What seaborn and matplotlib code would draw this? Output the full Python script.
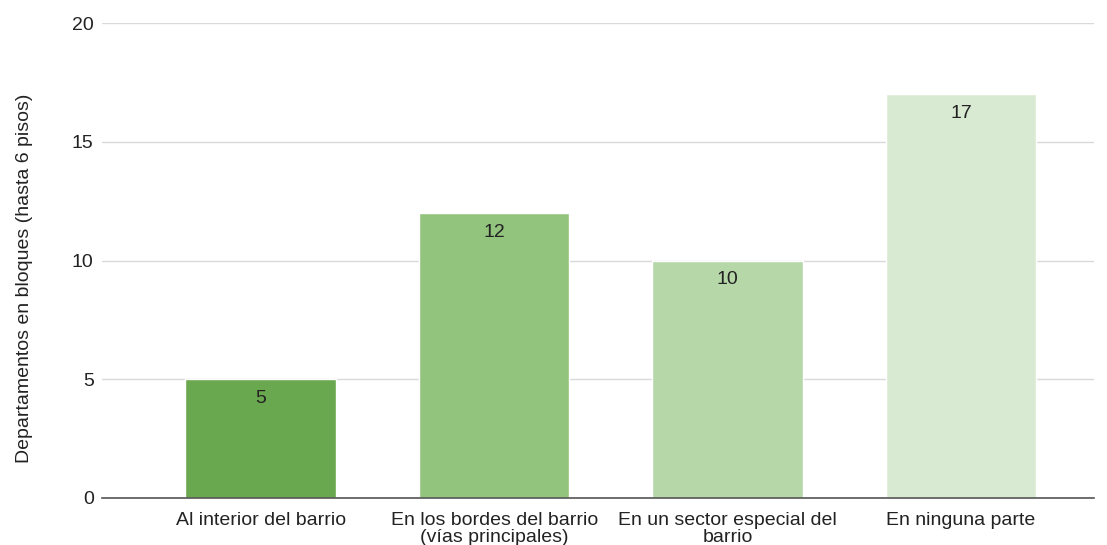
import matplotlib
matplotlib.use("Agg")
import matplotlib.pyplot as plt
import seaborn as sns
import pandas as pd

categories = [
    "Al interior del barrio",
    "En los bordes del barrio\n(vías principales)",
    "En un sector especial del\nbarrio",
    "En ninguna parte",
]
values = [5, 12, 10, 17]
bar_colors = ["#6aa84f", "#93c47d", "#b6d7a8", "#d9ead3"]
y_ticks = [0, 5, 10, 15, 20]
y_label = "Departamentos en bloques (hasta 6 pisos)"

sns.set_style("white")
plt.rcParams["font.family"] = ["Liberation Sans", "DejaVu Sans"]

df = pd.DataFrame({"cat": categories, "val": values})

fig = plt.figure(figsize=(11.07, 5.45), dpi=100)
ax = fig.add_axes([102 / 1107, 1 - 498 / 545, (1094 - 102) / 1107, (498 - 23) / 545])

sns.barplot(data=df, x="cat", y="val", hue="cat", palette=bar_colors,
            legend=False, width=0.645, ax=ax, saturation=1, zorder=3)

ax.set_ylim(0, 20)
ax.set_xlim(-0.68, 3.57)
ax.set_yticks(y_ticks)
ax.set_yticklabels([str(t) for t in y_ticks], fontsize=14, color="#222222")
ax.yaxis.grid(True, color="#d9d9d9", linewidth=1, zorder=0)
ax.set_axisbelow(True)
for s in ["top", "right", "left"]:
    ax.spines[s].set_visible(False)
ax.spines["bottom"].set_color("#555555")
ax.spines["bottom"].set_linewidth(1.2)
ax.spines["bottom"].set_zorder(4)
ax.tick_params(axis="y", length=0, pad=6)
ax.tick_params(axis="x", length=0, pad=10)
ax.set_xlabel("")
ax.set_ylabel(y_label, fontsize=14, color="#222222")
ax.yaxis.set_label_coords(-0.0696, 0.463)

for lbl in ax.get_xticklabels():
    lbl.set_fontsize(14)
    lbl.set_color("#222222")
    lbl.set_linespacing(1.0)

for container in ax.containers:
    ax.bar_label(container, labels=[f"{v:g}" for v in container.datavalues],
                 label_type="edge", padding=-20, fontsize=14, color="#222222")

fig.savefig("out.png", dpi=100)
